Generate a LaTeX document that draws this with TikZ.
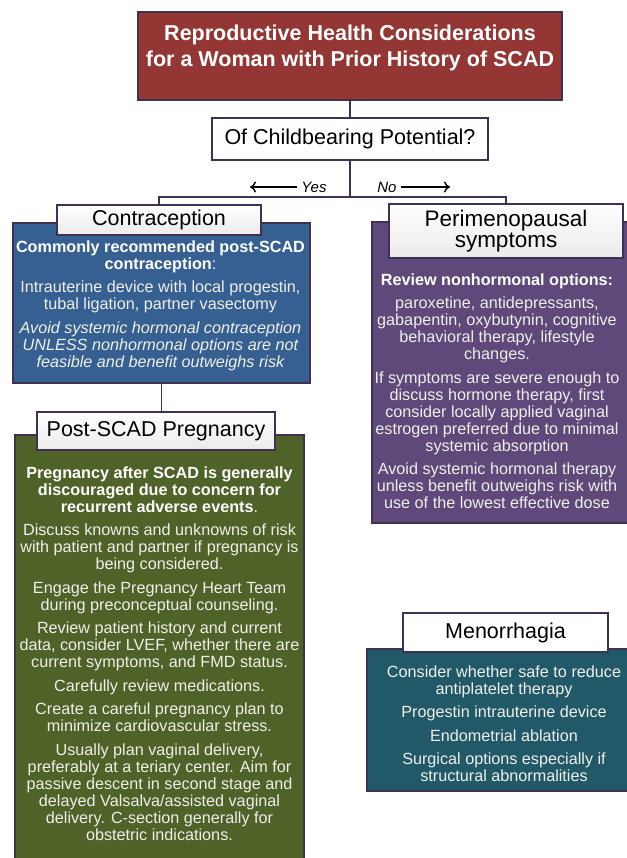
\documentclass[tikz,border=0pt]{standalone}
\usepackage{fontspec}
\setmainfont{Liberation Sans}
\usetikzlibrary{arrows.meta}
\definecolor{edgec}{HTML}{3F3151}
\definecolor{titlec}{HTML}{943634}
\definecolor{contrac}{HTML}{376092}
\definecolor{perimc}{HTML}{5F497A}
\definecolor{pregc}{HTML}{4F6228}
\definecolor{menoc}{HTML}{215968}
\definecolor{bodyc}{HTML}{EFEFEA}
\newcommand{\hl}[1]{{\color{white}\bfseries #1}}
\newcommand{\gap}{\\[6.5pt]}

\begin{document}
\begin{tikzpicture}[x=1pt,y=-1pt,>={To[length=6pt,width=11pt]},
    panel/.style={draw=edgec,line width=1.8pt,inner sep=0pt},
    head node/.style={panel,fill=white,align=center,font=\fontsize{21.5}{21}\selectfont},
    shaded head/.style={head node,top color=white,bottom color=black!8},
    body/.style={text=bodyc,align=center,inner sep=0pt,font=\fontsize{16.2}{17}\selectfont},
    link/.style={draw=edgec,line width=1.8pt},
    answer/.style={font=\fontsize{15}{17}\selectfont\itshape,inner sep=4pt}]
    \useasboundingbox (0,0) rectangle (626,858);

    \node[panel,fill=titlec,minimum width=424pt,minimum height=88pt] at (350, 56) (title) {};
    \node[align=center,text=white,font=\fontsize{21.5}{26.5}\selectfont\bfseries] at (350, 48) (titletxt)
        {Reproductive Health Considerations\\for a Woman with Prior History of SCAD};
    \node[head node,minimum width=276pt,minimum height=42pt] at (350, 139) (question) {Of Childbearing Potential?};

    \node[panel,fill=contrac,minimum width=297pt,minimum height=160pt] at (161.5, 303) (contra) {};
    \node[panel,fill=pregc,minimum width=289pt,minimum height=435pt] at (159.5, 652.5) (preg) {};
    \node[panel,fill=perimc,minimum width=268pt,minimum height=301pt] at (506, 372.5) (perim) {};
    \node[panel,fill=menoc,minimum width=273pt,minimum height=142pt] at (503.5, 720) (meno) {};

    \node[shaded head,minimum width=204pt,minimum height=30pt] at (159, 220) (conhead) {Contraception};
    \node[shaded head,minimum width=238pt,minimum height=38pt] at (156, 431) (preghead) {Post-SCAD Pregnancy};
    \node[shaded head,minimum width=234pt,minimum height=54pt,font=\fontsize{22.5}{21}\selectfont] at (506, 231) (perihead) {Perimenopausal\\symptoms};
    \node[head node,minimum width=205pt,minimum height=39pt] at (505.5, 632.5) (menohead) {Menorrhagia};

    \node[body] at (160.5, 305.5) (contratxt) {\hl{Commonly recommended post-SCAD}\\\hl{contraception}:\gap
        Intrauterine device with local progestin,\\tubal ligation, partner vasectomy\gap
        \itshape Avoid systemic hormonal contraception\\\itshape UNLESS nonhormonal options are not\\\itshape feasible and benefit outweighs risk};
    \node[body] at (159.5, 653.5) (pregtxt) {\hl{Pregnancy after SCAD is generally}\\\hl{discouraged due to concern for}\\\hl{recurrent adverse events}.\gap
        Discuss knowns and unknowns of risk\\with patient and partner if pregnancy is\\being considered.\gap
        Engage the Pregnancy Heart Team\\during preconceptual counseling.\gap
        Review patient history and current\\data, consider LVEF, whether there are\\current symptoms, and FMD status.\gap
        Carefully review medications.\gap
        Create a careful pregnancy plan to\\minimize cardiovascular stress.\gap
        Usually plan vaginal delivery,\\preferably at a teriary center. Aim for\\passive descent in second stage and\\delayed Valsalva/assisted vaginal\\delivery. C-section generally for\\obstetric indications.};
    \node[body] at (497, 391) (perimtxt) {\hl{Review nonhormonal options:}\gap
        paroxetine, antidepressants,\\gabapentin, oxybutynin, cognitive\\behavioral therapy, lifestyle\\changes.\gap
        If symptoms are severe enough to\\discuss hormone therapy, first\\consider locally applied vaginal\\estrogen preferred due to minimal\\systemic absorption\gap
        Avoid systemic hormonal therapy\\unless benefit outweighs risk with\\use of the lowest effective dose};
    \node[body] at (504, 723.5) (menotxt) {Consider whether safe to reduce\\antiplatelet therapy\gap
        Progestin intrauterine device\gap
        Endometrial ablation\gap
        Surgical options especially if\\structural abnormalities};

    \coordinate (split) at (350, 197);
    \path[link] (title) edge (question);
    \draw[link] (question) -- (split);
    \draw[link] (split) -| (conhead);
    \draw[link] (split) -| (perihead);
    \draw[link] (contra) -- (contra |- preghead.north);

    \node[answer] at (314, 187) (yes) {Yes};
    \node[answer] at (387, 187) (no) {No};
    \coordinate (yesend) at (250, 187);
    \coordinate (noend) at (450, 187);
    \path[->,line width=1.4pt] (yes) edge (yesend);
    \path[->,line width=1.4pt] (no) edge (noend);
\end{tikzpicture}
\end{document}
